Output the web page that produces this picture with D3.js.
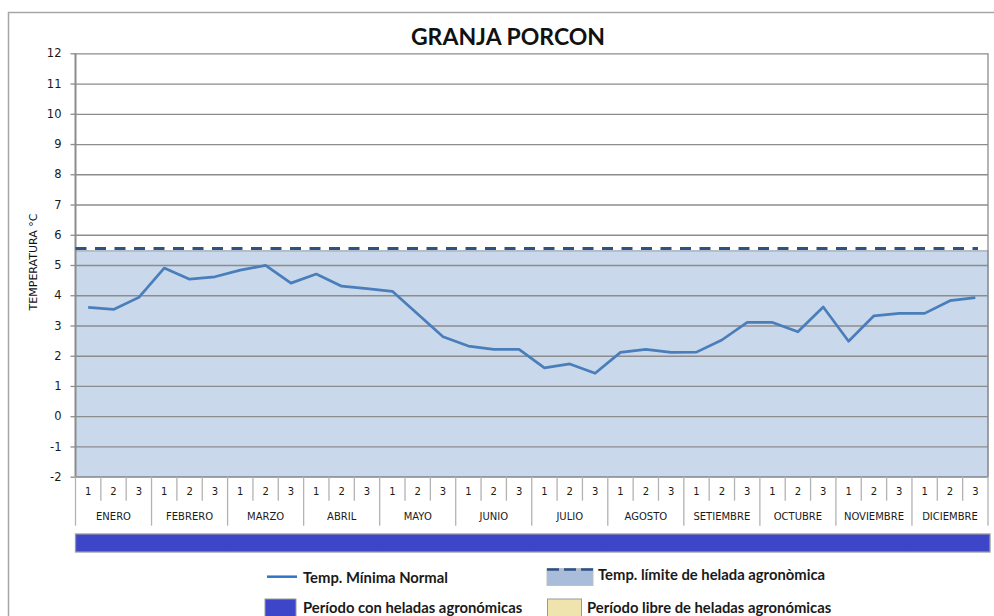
<!DOCTYPE html>
<html>
<head>
<meta charset="utf-8">
<script src="https://cdn.jsdelivr.net/npm/d3@7"></script>
<style>
  body { margin: 0; background: #fff; }
  svg { display: block; }
</style>
</head>
<body>
<div class="chart"></div>
<script>
// meses y decadas del eje X
const months = ["ENERO", "FEBRERO", "MARZO", "ABRIL", "MAYO", "JUNIO", "JULIO",
  "AGOSTO", "SETIEMBRE", "OCTUBRE", "NOVIEMBRE", "DICIEMBRE"];
const dekads = ["1", "2", "3"];
// temperatura minima normal por decada (36 valores)
const tempMin = [3.6, 3.53, 3.93, 4.9, 4.53, 4.61, 4.83, 4.99, 4.4, 4.7, 4.3, 4.22,
  4.13, 3.38, 2.63, 2.32, 2.21, 2.21, 1.6, 1.73, 1.42, 2.11, 2.21, 2.11,
  2.12, 2.52, 3.1, 3.1, 2.79, 3.61, 2.48, 3.32, 3.4, 3.4, 3.82, 3.92];
// temperatura limite de helada agronomica
const frostLimit = 5.5;
// periodo con heladas por mes (1 = con heladas, 0 = libre)
const frostPeriod = [1, 1, 1, 1, 1, 1, 1, 1, 1, 1, 1, 1];
const yTicks = [-2, -1, 0, 1, 2, 3, 4, 5, 6, 7, 8, 9, 10, 11, 12];
const legendItems = [
  "Temp. Mínima Normal",
  "Temp. límite de helada agronòmica",
  "Período con heladas agronómicas",
  "Período libre de heladas agronómicas"
];

let chart = {
  svg: {},
  x: {},
  y: {},
  keys: [],
  config: {
    svgW: 994,
    svgH: 616,
    left: 75.5,
    right: 988,
    top: 53.3,
    bottom: 476.7,
    frostColor: "#3d46c8",
    freeColor: "#efe3ae",
    areaColor: "#c9d8eb",
    lineColor: "#4a7ebb",
    dashColor: "#2c5286",
    grid: "#8c8c8c"
  },
  init: function () {
    this.svg = d3.select('.chart').append('svg')
      .attr('width', this.config.svgW)
      .attr('height', this.config.svgH)
      .style('font-family', '"DejaVu Sans", Verdana, sans-serif');
    this.keys = months.flatMap(m => dekads.map(d => m + '|' + d));
    this.x = d3.scaleBand().domain(this.keys).range([this.config.left, this.config.right]);
    this.y = d3.scaleLinear().domain([-2, 12]).range([this.config.bottom, this.config.top]);
    this.frame();
    this.plot();
    this.xAxis();
    this.legend();
  },
  frame: function () {
    // borde exterior
    this.svg.append('rect')
      .attr('x', 8.5).attr('y', 12.5)
      .attr('width', 1000).attr('height', 700)
      .attr('fill', 'none').attr('stroke', '#a6a6a6').attr('stroke-width', 1.5);
    // titulo
    this.svg.append('text')
      .attr('x', 508).attr('y', 45)
      .attr('text-anchor', 'middle')
      .style('font-family', 'Lato, "Open Sans", sans-serif')
      .style('font-weight', 'bold')
      .style('font-size', '23px')
      .attr('fill', '#111')
      .text('GRANJA PORCON');
    // titulo eje Y
    this.svg.append('text')
      .attr('transform', 'translate(37,262) rotate(-90)')
      .attr('text-anchor', 'middle')
      .style('font-size', '11px')
      .attr('fill', '#111')
      .text('TEMPERATURA °C');
  },
  plot: function () {
    let c = this.config;
    let x = this.x, y = this.y;
    let bw = x.bandwidth();
    // area bajo el limite de helada
    this.svg.append('rect')
      .attr('x', c.left).attr('y', y(frostLimit) + 1)
      .attr('width', c.right - c.left).attr('height', y(-2) - y(frostLimit) - 1)
      .attr('fill', c.areaColor)
      .attr('stroke', '#8d96a3').attr('stroke-width', 1);
    // grilla
    this.svg.append('g')
      .attr('class', 'grid')
      .attr('transform', `translate(${c.left},0)`)
      .call(d3.axisLeft(y).tickValues(yTicks).tickSize(-(c.right - c.left)).tickFormat(''))
      .call(g => g.select('.domain').remove())
      .call(g => g.selectAll('line').attr('stroke', c.grid).attr('stroke-width', 1.3));
    // eje Y con etiquetas
    this.svg.append('g')
      .attr('class', 'y axis')
      .attr('transform', `translate(${c.left},0)`)
      .call(d3.axisLeft(y).tickValues(yTicks).tickSize(5).tickPadding(9).tickFormat(d => String(d)))
      .call(g => g.select('.domain').remove())
      .call(g => g.selectAll('line').attr('stroke', c.grid).attr('stroke-width', 1.3))
      .call(g => g.selectAll('text')
        .style('font-family', '"DejaVu Sans", Verdana, sans-serif')
        .style('font-size', '11.5px').attr('fill', '#1a1a1a'));
    // bordes del area de trazado
    this.svg.append('line')
      .attr('x1', c.left).attr('x2', c.left)
      .attr('y1', c.top).attr('y2', c.bottom)
      .attr('stroke', '#8c8c8c').attr('stroke-width', 2);
    this.svg.append('line')
      .attr('x1', c.right).attr('x2', c.right)
      .attr('y1', c.top).attr('y2', c.bottom)
      .attr('stroke', '#8c8c8c').attr('stroke-width', 1.3);
    // linea limite discontinua
    this.svg.append('line')
      .attr('x1', c.left).attr('x2', c.right - 10)
      .attr('y1', y(frostLimit) - 1.5).attr('y2', y(frostLimit) - 1.5)
      .attr('stroke', c.dashColor).attr('stroke-width', 3)
      .attr('stroke-dasharray', '11,8.5');
    // temperatura minima
    let line = d3.line()
      .x((d, i) => x(this.keys[i]) + bw / 2)
      .y(d => y(d));
    this.svg.append('path')
      .datum(tempMin)
      .attr('fill', 'none')
      .attr('stroke', c.lineColor)
      .attr('stroke-width', 2.7)
      .attr('stroke-linejoin', 'round')
      .attr('d', line);
  },
  xAxis: function () {
    let c = this.config;
    let x = this.x;
    let bw = x.bandwidth();
    let g = this.svg.append('g').attr('class', 'x axis');
    // numeros de decada
    g.append('g')
      .attr('transform', `translate(0,${c.bottom})`)
      .call(d3.axisBottom(x).tickSize(0).tickFormat(k => k.split('|')[1]))
      .call(a => a.select('.domain').remove())
      .call(a => a.selectAll('text')
        .attr('y', 15).attr('dy', '0.35em')
        .style('font-family', '"DejaVu Sans", Verdana, sans-serif')
        .style('font-size', '10px').attr('fill', '#1a1a1a'));
    // separadores
    g.selectAll('line.sep')
      .data(this.keys.concat(['end']))
      .enter()
      .append('line')
      .attr('class', 'sep')
      .attr('x1', (k, i) => i < this.keys.length ? x(k) : c.right)
      .attr('x2', (k, i) => i < this.keys.length ? x(k) : c.right)
      .attr('y1', c.bottom)
      .attr('y2', (k, i) => i % 3 === 0 ? c.bottom + 49 : c.bottom + 24)
      .attr('stroke', '#b3b3b3').attr('stroke-width', 1.3);
    // nombres de mes
    g.selectAll('text.month')
      .data(months)
      .enter()
      .append('text')
      .attr('class', 'month')
      .attr('x', m => x(m + '|2') + bw / 2)
      .attr('y', c.bottom + 40)
      .attr('dy', '0.35em')
      .attr('text-anchor', 'middle')
      .style('font-size', '10px')
      .attr('fill', '#1a1a1a')
      .text(m => m);
    // franja de periodo de heladas
    g.selectAll('rect.period')
      .data(frostPeriod)
      .enter()
      .append('rect')
      .attr('class', 'period')
      .attr('x', (d, i) => x(months[i] + '|1'))
      .attr('y', 534)
      .attr('width', (d, i) => i === 11 ? c.right + 2 - x(months[i] + '|1') : bw * 3 + 0.5)
      .attr('height', 18)
      .attr('fill', d => d ? c.frostColor : c.freeColor);
    g.append('rect')
      .attr('x', c.left).attr('y', 534)
      .attr('width', c.right + 2 - c.left).attr('height', 18)
      .attr('fill', 'none').attr('stroke', '#9a9a9a').attr('stroke-width', 1.3);
  },
  legend: function () {
    let c = this.config;
    let lg = this.svg.append('g').attr('class', 'legend')
      .style('font-family', 'Lato, "Open Sans", sans-serif')
      .style('font-weight', 'bold')
      .style('font-size', '14.8px');
    // linea
    lg.append('line')
      .attr('x1', 267).attr('x2', 297).attr('y1', 576.7).attr('y2', 576.7)
      .attr('stroke', '#2e75c6').attr('stroke-width', 2.5);
    // area limite
    lg.append('rect')
      .attr('x', 547).attr('y', 568.5).attr('width', 46).attr('height', 17)
      .attr('fill', '#a9bcd9').attr('stroke', '#c0c0c0');
    lg.append('line')
      .attr('x1', 547).attr('x2', 593).attr('y1', 569.5).attr('y2', 569.5)
      .attr('stroke', c.dashColor).attr('stroke-width', 2.5)
      .attr('stroke-dasharray', '12,5');
    // periodos
    lg.append('rect')
      .attr('x', 265).attr('y', 599).attr('width', 31).attr('height', 19)
      .attr('fill', c.frostColor).attr('stroke', '#9a9a9a');
    lg.append('rect')
      .attr('x', 547.5).attr('y', 599).attr('width', 34).attr('height', 19)
      .attr('fill', c.freeColor).attr('stroke', '#9a9a9a');
    let pos = [[303, 577.7], [598, 575], [303, 608.3], [587, 608.3]];
    lg.selectAll('text')
      .data(legendItems)
      .enter()
      .append('text')
      .attr('x', (d, i) => pos[i][0])
      .attr('y', (d, i) => pos[i][1])
      .attr('dy', '0.35em')
      .attr('fill', '#1a1a1a')
      .text(d => d);
  }
};

chart.init();
</script>
</body>
</html>
